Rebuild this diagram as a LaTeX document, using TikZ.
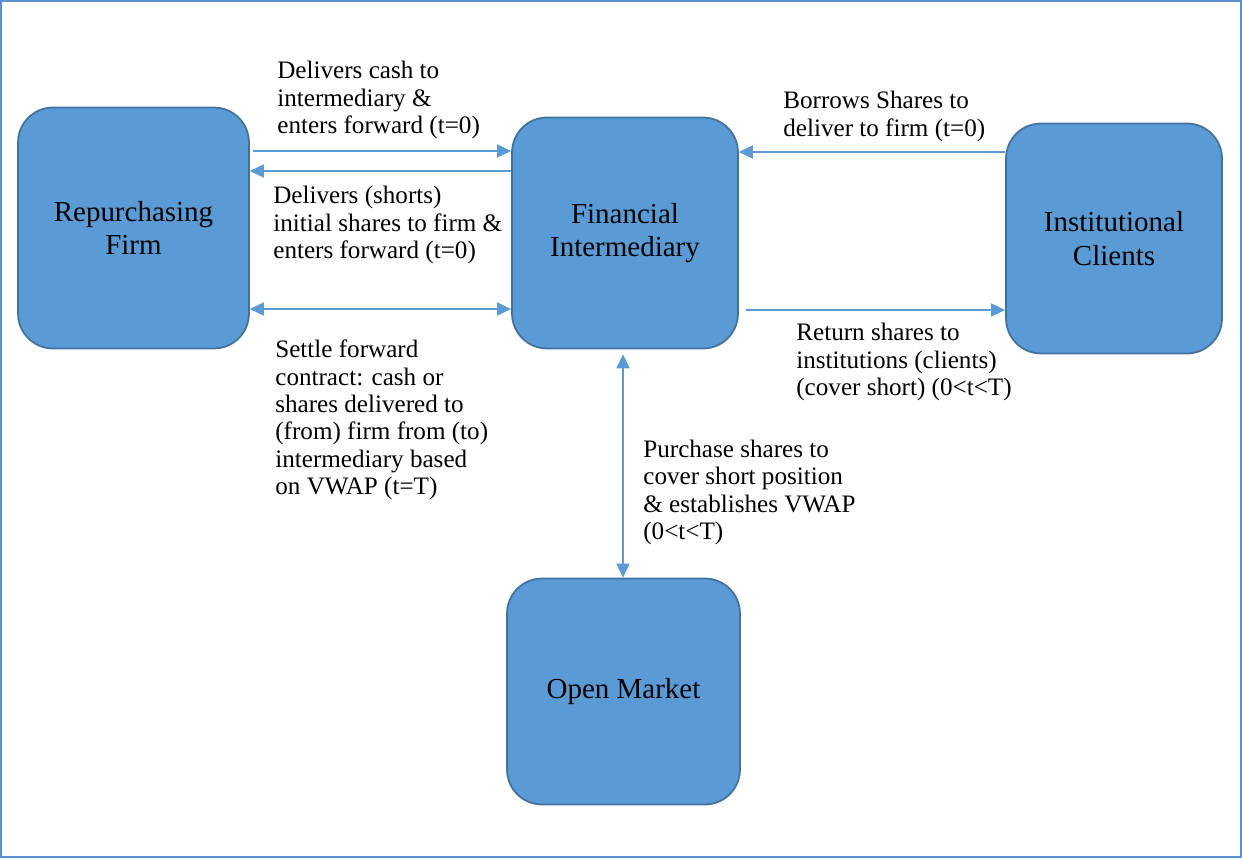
\documentclass[tikz,border=0pt]{standalone}
\usepackage{fontspec}
\setmainfont{Liberation Serif}
\usetikzlibrary{arrows.meta}
\usetikzlibrary{positioning}
\definecolor{boxfill}{HTML}{5B9BD5}
\definecolor{boxline}{HTML}{41719C}
\definecolor{flowline}{HTML}{5B9BD5}
\definecolor{framecol}{HTML}{5B8FD0}
\tikzset{party/.style = {draw = boxline, line width = 1pt, fill = boxfill, rounded corners = 0.7cm, align = center, font = \fontsize{16.5}{19}\selectfont, inner sep = 0}}
\tikzset{flow/.style = {draw = flowline, line width = 0.8pt, -{Triangle[length = 8pt, width = 7.5pt]}}}
\tikzset{twoway/.style = {flow, {Triangle[length = 8pt, width = 7.5pt]}-{Triangle[length = 8pt, width = 7.5pt]}}}
\tikzset{note/.style = {anchor = west, align = left, inner sep = 0, font = \fontsize{14.3}{15.6}\selectfont}}

\begin{document}
\begin{tikzpicture}[x = 0.02cm, y = -0.02cm]
    \useasboundingbox (0, 0) rectangle (1242, 859);
    \draw [framecol, line width = 1.2pt] (1, 1) rectangle (1241, 857);

    \node [party, minimum width = 4.62cm, minimum height = 4.82cm] (firm) at (133.5, 228) {Repurchasing\\Firm};
    \node [party, minimum width = 4.52cm, minimum height = 4.62cm] (inter) at (625, 233) {Financial\\Intermediary};
    \node [party, minimum width = 4.32cm, minimum height = 4.6cm] (clients) at (1114, 238.5) {Institutional\\Clients};
    \node [party, minimum width = 4.66cm, minimum height = 4.52cm] (market) at (623.5, 691.5) {Open Market};

    \draw [flow, shorten <= 1.7pt] (firm.east |- 0, 151) -- (inter.west |- 0, 151);
    \draw [flow] (inter.west |- 0, 171) -- (firm.east |- 0, 171);
    \draw [twoway] (firm.east |- 0, 309) -- (inter.west |- 0, 309);
    \draw [flow] (clients.west |- 0, 152) -- (inter.east |- 0, 152);
    \draw [flow, shorten <= 4pt] (inter.east |- 0, 310) -- (clients.west |- 0, 310);
    \draw [twoway, shorten <= 2.8pt] (inter.south -| 623, 0) -- (market.north -| 623, 0);

    \node [note] (cash) at (277, 100) {Delivers cash to\\intermediary \&\\enters forward (t=0)};
    \node [note] (shorts) at (273, 225) {Delivers (shorts)\\initial shares to firm \&\\enters forward (t=0)};
    \node [note] (settle) at (275, 420) {Settle forward\\contract: cash or\\shares delivered to\\(from) firm from (to)\\intermediary based\\on VWAP (t=T)};
    \node [note] (borrow) at (783, 116.5) {Borrows Shares to\\deliver to firm (t=0)};
    \node [note] (return) at (796, 362) {Return shares to\\institutions (clients)\\(cover short) (0<t<T)};
    \node [note] (purchase) at (643, 492.5) {Purchase shares to\\cover short position\\\& establishes VWAP\\(0<t<T)};
\end{tikzpicture}
\end{document}
